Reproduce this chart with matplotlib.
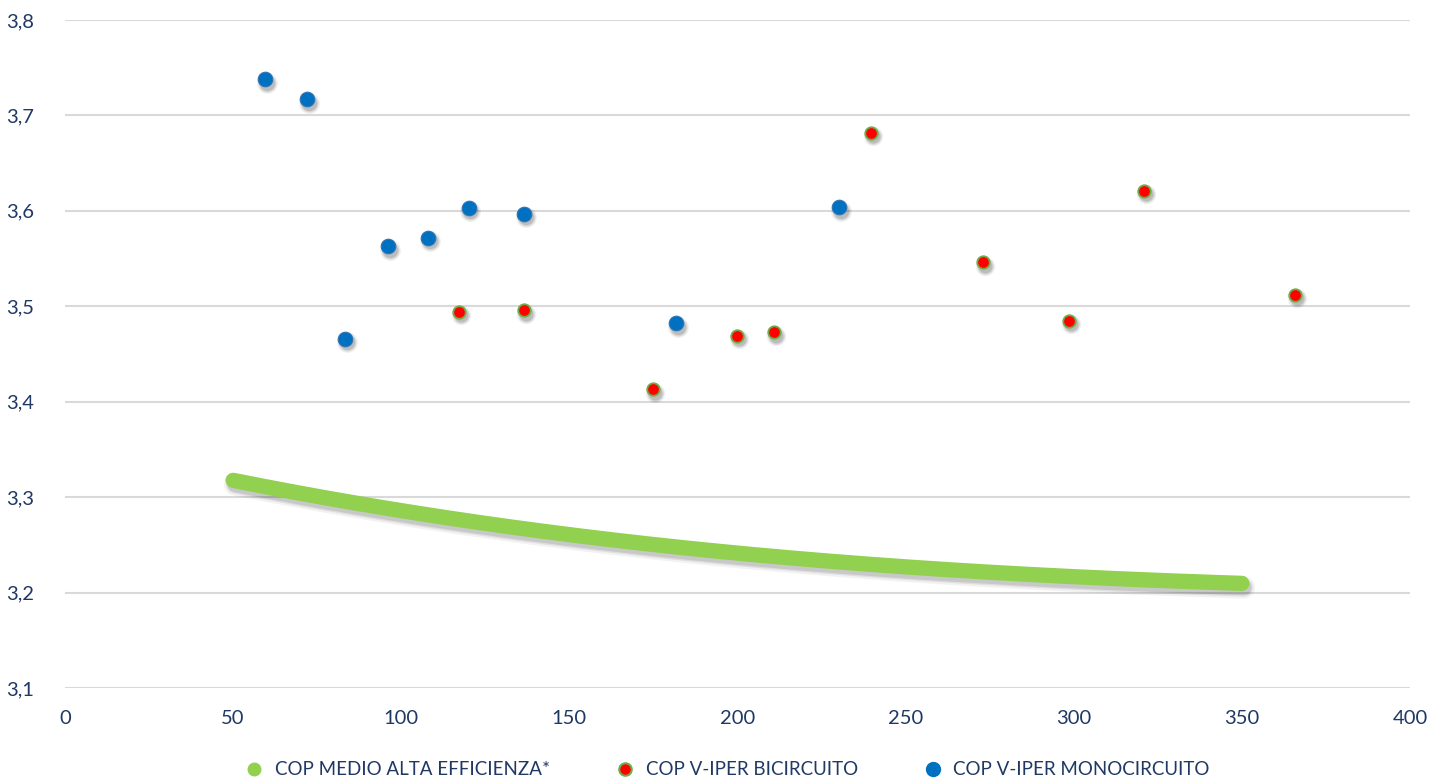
import numpy as np
import matplotlib.pyplot as plt
import matplotlib.transforms as mtransforms
from matplotlib.lines import Line2D
from matplotlib.ticker import FuncFormatter

# series values
medio_x = [50, 100, 150, 200, 250, 300, 350]
medio_y = [3.318, 3.285, 3.261, 3.242, 3.227, 3.216, 3.210]

bi_x = [117.2, 136.5, 174.9, 199.9, 210.9, 239.7, 273.0, 298.6, 320.9, 365.8]
bi_y = [3.494, 3.496, 3.413, 3.469, 3.473, 3.682, 3.546, 3.485, 3.621, 3.512]

mono_x = [59.5, 72.0, 83.3, 96.1, 108.0, 120.1, 136.5, 181.7, 230.2]
mono_y = [3.738, 3.717, 3.466, 3.563, 3.572, 3.603, 3.597, 3.482, 3.604]

labels = ['COP MEDIO ALTA EFFICIENZA*', 'COP V-IPER BICIRCUITO', 'COP V-IPER MONOCIRCUITO']

plt.rcParams['font.family'] = ['Lato', 'DejaVu Sans']
text_col = '#1F3864'
green = '#92D050'
red = '#FF0000'
blue = '#0070C0'

fig = plt.figure(figsize=(14.31, 7.84), dpi=100)
ax = fig.add_axes([0.0454, 0.1224, 0.9399, 0.8521])

# soft shadow: a few offset gray copies
def shadow_tr(dx, dy):
    return mtransforms.offset_copy(ax.transData, fig=fig, x=dx, y=dy, units='points')

coef = np.polyfit(medio_x, medio_y, 3)
xs = np.linspace(medio_x[0], medio_x[-1], 200)
ys = np.polyval(coef, xs)
for w, a in [(16, 0.05), (13, 0.08), (11, 0.1)]:
    ax.plot(xs, ys, color='black', lw=w, alpha=a, solid_capstyle='round',
            transform=shadow_tr(1.5, -3), zorder=2)
ax.plot(xs, ys, color=green, lw=11, solid_capstyle='round', zorder=3)

for xx, yy, ms in [(bi_x, bi_y, 10), (mono_x, mono_y, 11)]:
    for extra, a in [(4, 0.06), (2, 0.1), (0, 0.12)]:
        ax.plot(xx, yy, ls='none', marker='o', ms=ms + extra, mfc='black', mec='none',
                alpha=a, transform=shadow_tr(1.2, -2.5), zorder=2)

ax.plot(bi_x, bi_y, ls='none', marker='o', ms=9, mfc=red, mec='#70AD47', mew=1.3, zorder=4)
ax.plot(mono_x, mono_y, ls='none', marker='o', ms=10.5, mfc=blue, mec='#2E75B6', mew=0.8, zorder=4)

ax.set_xlim(0, 400)
ax.set_ylim(3.1, 3.8)
ax.set_xticks(range(0, 401, 50))
ax.set_yticks([3.1, 3.2, 3.3, 3.4, 3.5, 3.6, 3.7, 3.8])
ax.yaxis.set_major_formatter(FuncFormatter(lambda v, p: f'{v:.1f}'.replace('.', ',')))
ax.grid(axis='y', color='#d9d9d9', lw=1.5)
ax.set_axisbelow(True)
for s in ax.spines.values():
    s.set_visible(False)
ax.tick_params(length=0, labelsize=14.5, labelcolor=text_col, pad=16)
ax.tick_params(axis='y', pad=22)

handles = [
    Line2D([], [], ls='none', marker='o', ms=9, mfc=green, mec=green),
    Line2D([], [], ls='none', marker='o', ms=9, mfc=red, mec='#70AD47', mew=1.5),
    Line2D([], [], ls='none', marker='o', ms=10, mfc=blue, mec=blue),
]
leg = fig.legend(handles, labels, loc='lower center', bbox_to_anchor=(0.505, -0.014), ncol=3,
                 frameon=False, fontsize=13.5, handletextpad=0.1, columnspacing=3.0)
for t in leg.get_texts():
    t.set_color(text_col)

fig.savefig('out.png', dpi=100)
